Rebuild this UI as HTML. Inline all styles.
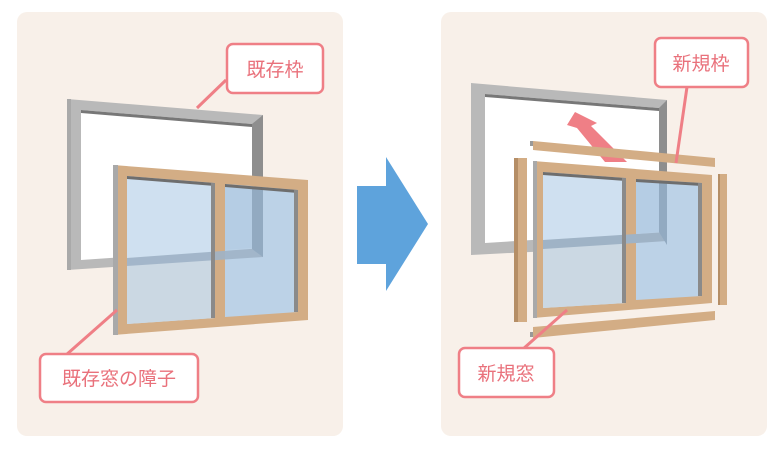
<!DOCTYPE html>
<html><head><meta charset="utf-8"><style>
html,body{margin:0;padding:0;background:#fff;}
svg{display:block}
text{font-family:"Liberation Sans","Noto Sans CJK JP",sans-serif;fill:#e9717b;font-size:19px;}
</style></head><body>
<svg width="783" height="452" viewBox="0 0 783 452" xmlns="http://www.w3.org/2000/svg">
<rect x="17" y="12" width="326" height="424" rx="10" fill="#f8f0e9"/>
<rect x="441" y="12" width="326" height="424" rx="10" fill="#f8f0e9"/>

<!-- LEFT: existing gray frame -->
<polygon points="67,99 263,115 263,257 67,270" fill="#b9b9b9"/>
<polygon points="81,110 252,124 252,248 81,260" fill="#ffffff"/>
<polygon points="81,110 252,124 252,127 81,113" fill="#777"/>
<polygon points="252,124 263,115 263,257 252,248" fill="#8e8e8e"/>
<polygon points="67,99 71,99 71,270 67,270" fill="#a9a9a9"/>

<!-- LEFT: wood sash -->
<polygon points="113,165 308,180 308,320 113,335" fill="#d3ad85"/>
<polygon points="113,165 118,165 118,335 113,335" fill="#a9a9a9"/>
<polygon points="127,176 215,183 215,318 127,324" fill="#cfe0f0"/>
<polygon points="225,184 298,190 298,312 225,317" fill="#bcd2e7"/>
<polygon points="127,258 215,252 215,318 127,324" fill="#cbd8e3"/>
<polygon points="127,258 263,248 263,257 127,266" fill="#9fb3c6" opacity="0.9"/>
<polygon points="225,184 252,186 252,248 225,250" fill="#b5cde4"/>
<polygon points="252,187 263,188 263,257 252,249" fill="#92aac1"/>
<polygon points="127,176 215,183 215,186 127,179" fill="#6e6e6e"/>
<polygon points="225,184 298,190 298,193 225,187" fill="#6e6e6e"/>
<rect x="211" y="183" width="4" height="135" fill="#8a8a8a"/>
<rect x="294" y="190" width="4" height="122" fill="#8a8a8a"/>

<!-- labels left -->
<line x1="197" y1="108" x2="226" y2="80" stroke="#ef7f86" stroke-width="3"/>
<rect x="227" y="44" width="96" height="49" rx="6" fill="#fff" stroke="#ef7f86" stroke-width="2.5"/>
<text x="275" y="76" text-anchor="middle">既存枠</text>
<line x1="117" y1="310" x2="66" y2="355" stroke="#ef7f86" stroke-width="3"/>
<rect x="40" y="354" width="158" height="48" rx="6" fill="#fff" stroke="#ef7f86" stroke-width="2.5"/>
<text x="119" y="385" text-anchor="middle">既存窓の障子</text>

<!-- big arrow -->
<polygon points="357,186 386,186 386,157 428,224 386,291 386,264 357,264" fill="#5ea3dc"/>

<!-- RIGHT: gray frame -->
<polygon points="471,83 667,100 667,245 471,255" fill="#b9b9b9"/>
<polygon points="485,94 659,108 659,232 485,243" fill="#ffffff"/>
<polygon points="485,94 659,108 659,111 485,97" fill="#777"/>
<polygon points="659,108 667,100 667,245 659,232" fill="#8e8e8e"/>

<!-- pink arrow -->
<polygon points="575,112 597,123 591,126 627,162 605,162 577,128 567,125" fill="#ef7f86"/>

<!-- top bar -->
<polygon points="533,141 715,158 715,167 533,150" fill="#d3ad85"/>
<rect x="530" y="141" width="3" height="5" fill="#999"/>
<!-- posts -->
<polygon points="514,158 527,158 527,322 514,322" fill="#d3ad85"/>
<rect x="514" y="158" width="4" height="164" fill="#b58e66"/>
<polygon points="718,174 727,174 727,305 718,305" fill="#d3ad85"/>
<rect x="718" y="174" width="2" height="131" fill="#b58e66"/>

<!-- new window -->
<polygon points="533,161 712,175 712,303 533,318" fill="#d3ad85"/>
<polygon points="533,161 537,161 537,318 533,318" fill="#a9a9a9"/>
<polygon points="543,172 626,178 626,303 543,308" fill="#cfe0f0"/>
<polygon points="636,179 702,183 702,296 636,300" fill="#bcd2e7"/>
<polygon points="543,240 626,235 626,303 543,308" fill="#cbd8e3"/>
<polygon points="543,240 667,232 667,241 543,249" fill="#9fb3c6"/>
<polygon points="636,180 659,181 659,232 636,234" fill="#b5cde4"/>
<polygon points="659,181 667,182 667,245 659,232" fill="#92aac1"/>
<polygon points="543,172 626,178 626,181 543,175" fill="#6e6e6e"/>
<polygon points="636,179 702,183 702,186 636,182" fill="#6e6e6e"/>
<rect x="622" y="178" width="4" height="125" fill="#8a8a8a"/>
<rect x="698" y="183" width="4" height="113" fill="#8a8a8a"/>

<!-- bottom bar -->
<polygon points="533,327 715,311 715,320 533,338" fill="#d3ad85"/>
<rect x="530" y="332" width="3" height="5" fill="#999"/>

<!-- labels right -->
<line x1="676" y1="163" x2="687" y2="87" stroke="#ef7f86" stroke-width="3"/>
<rect x="655" y="38" width="93" height="49" rx="6" fill="#fff" stroke="#ef7f86" stroke-width="2.5"/>
<text x="701" y="70" text-anchor="middle">新規枠</text>
<line x1="567" y1="310" x2="523" y2="349" stroke="#ef7f86" stroke-width="3"/>
<rect x="459" y="348" width="95" height="49" rx="6" fill="#fff" stroke="#ef7f86" stroke-width="2.5"/>
<text x="506" y="380" text-anchor="middle">新規窓</text>
</svg>
</body></html>
